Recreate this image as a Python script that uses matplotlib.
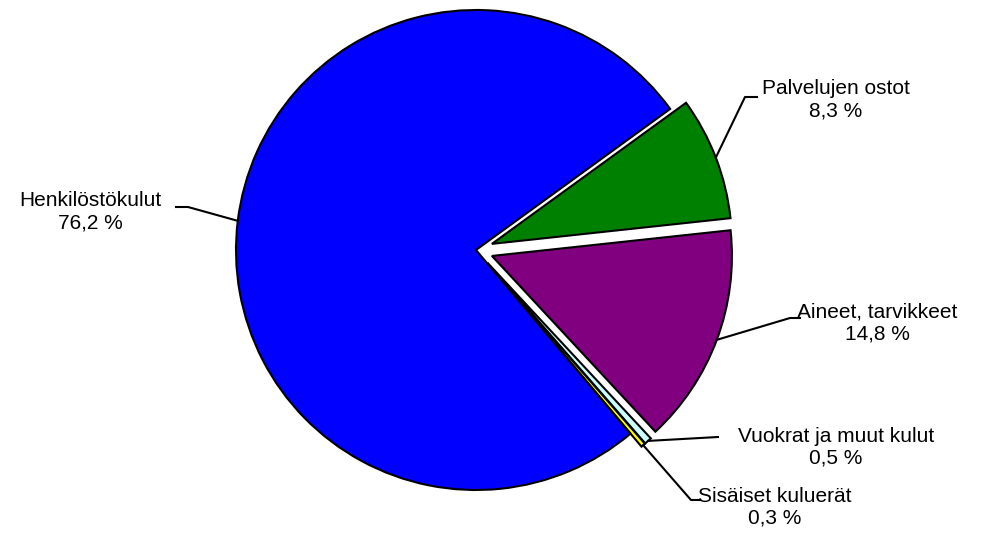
import matplotlib.pyplot as plt
import numpy as np

labels = ['Palvelujen ostot', 'Aineet, tarvikkeet', 'Vuokrat ja muut kulut',
          'Sisäiset kuluerät', 'Henkilöstökulut']
values = [8.3, 14.8, 0.5, 0.3, 76.2]
value_text = ['8,3 %', '14,8 %', '0,5 %', '0,3 %', '76,2 %']
colors = ['#008000', '#800080', '#CCFFFF', '#FFFF00', '#0000FF']

# label text centres and leader elbows (pixel layout, y down)
text_pos = [(836, 100), (877, 323), (836, 447), (775, 507), (90, 212)]
elbow_pos = [[(745, 97), (757, 97)], [(790, 318), (800, 318)], [(718, 437)],
             [(691, 500), (700, 500)], [(188, 207), (176, 207)]]

W, H = 989, 536
cx, cy = 476, 250
R = 240
explode = [17, 17, 17, 17, 0]  # offset in pixels

fig = plt.figure(figsize=(W / 100, H / 100), dpi=100)
ax = fig.add_axes([0, 0, 1, 1])

wedges, _ = ax.pie(values, colors=colors, explode=explode, radius=R,
                   startangle=36, counterclock=False,
                   wedgeprops=dict(edgecolor='black', linewidth=1.5),
                   frame=True)
ax.set_xlim(-cx, W - cx)
ax.set_ylim(-(H - cy), cy)
ax.set_aspect('equal')
ax.axis('off')


def to_data(p):
    return p[0] - cx, cy - p[1]


for w, lab, vt, tp, elb in zip(wedges, labels, value_text, text_pos, elbow_pos):
    mid = np.deg2rad((w.theta1 + w.theta2) / 2)
    x0 = w.center[0] + R * np.cos(mid)
    y0 = w.center[1] + R * np.sin(mid)
    pts = [(x0, y0)] + [to_data(p) for p in elb]
    xs, ys = zip(*pts)
    ax.plot(xs, ys, color='black', lw=1.5)
    tx, ty = to_data(tp)
    ax.text(tx, ty, lab + '\n' + vt, ha='center', va='center',
            fontsize=15, family='Liberation Sans', linespacing=1.2)

plt.savefig('out.png', dpi=100)
